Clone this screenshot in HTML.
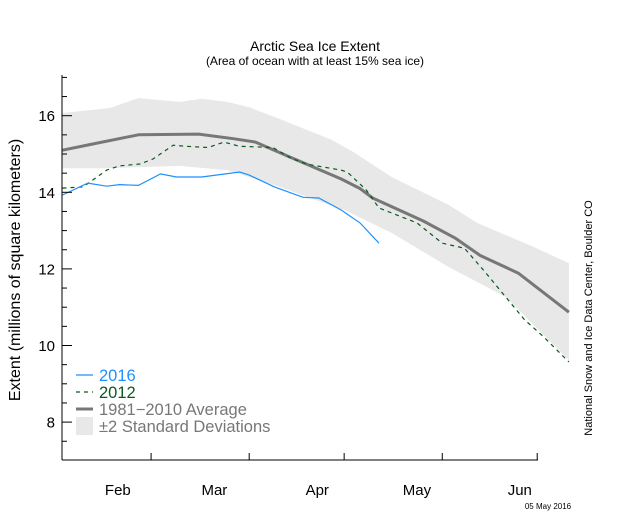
<!DOCTYPE html>
<html><head><meta charset="utf-8"><style>
body{margin:0;background:#fff;}
svg{display:block;font-family:"Liberation Sans",sans-serif;}
</style></head><body>
<svg id="chart" width="640" height="512" viewBox="0 0 640 512">
<text x="315" y="51" text-anchor="middle" font-size="14">Arctic Sea Ice Extent</text>
<text x="315" y="65" text-anchor="middle" font-size="12">(Area of ocean with at least 15% sea ice)</text>
<text transform="translate(20,270) rotate(-90)" text-anchor="middle" font-size="16">Extent (millions of square kilometers)</text>
<text transform="translate(592,318) rotate(-90)" text-anchor="middle" font-size="11">National Snow and Ice Data Center, Boulder CO</text>
<text x="548" y="509" text-anchor="middle" font-size="8">05 May 2016</text>
<g id="plot"></g>
<g>
<line x1="76" y1="375" x2="93" y2="375" stroke="#1e90ff" stroke-width="1.2"/>
<text x="99" y="381" font-size="16.5" fill="#1e90ff">2016</text>
<line x1="76" y1="392" x2="93" y2="392" stroke="#0b5a1e" stroke-width="1.2" stroke-dasharray="4,4"/>
<text x="99" y="398" font-size="16.5" fill="#0b5a1e">2012</text>
<line x1="76" y1="409" x2="93" y2="409" stroke="#777" stroke-width="3"/>
<text x="99" y="415" font-size="16.5" fill="#777">1981−2010 Average</text>
<rect x="76" y="417" width="17" height="18" fill="#e8e8e8"/>
<text x="99" y="432" font-size="16.5" fill="#777">±2 Standard Deviations</text>
</g>
</svg>
<script>
const avgDays=[1,10,25,44,55,62,72,78,89,95,99,115,125,133,145,161];
const avgVals=[15.1,15.25,15.5,15.52,15.4,15.31,14.95,14.74,14.35,14.1,13.85,13.25,12.81,12.35,11.89,10.87];
const upDays=[1,16,25,38,45,53,60,70,86,93,105,123,132,150,161];
const upVals=[16.07,16.2,16.46,16.36,16.44,16.36,16.22,15.9,15.37,15.05,14.4,13.67,13.2,12.57,12.15];
const loDays=[1,15,38,53,68,81,90,105,123,141,161];
const loVals=[14.63,14.63,14.69,14.58,14.19,13.8,13.54,12.94,12.05,11.27,9.62];
const y16Days=[1,9,15,19,25,32,37,45,57,60,68,77,82,89,95,101];
const y16Vals=[13.93,14.24,14.16,14.2,14.18,14.48,14.4,14.4,14.53,14.45,14.14,13.87,13.85,13.54,13.2,12.67];
const y12Days=[1,7.5,15,19,25.5,29.6,36,40,47,52,57,67.5,73,78,89,91,97,101,113,121,128,134,141,147,153,161];
const y12Vals=[14.11,14.14,14.58,14.69,14.74,14.87,15.23,15.2,15.17,15.31,15.2,15.17,14.9,14.74,14.58,14.53,14.06,13.59,13.2,12.67,12.54,11.97,11.27,10.67,10.23,9.57];
const yTicks=[8,10,12,14,16];
const months=["Feb","Mar","Apr","May","Jun"];
const monthStarts=[0,29,60,90,121,151];

const X0=59.3,PXD=3.165,Y16=115.7,PXV=38.3;
const xs=d=>X0+d*PXD;
const ys=v=>Y16+(16-v)*PXV;
const NS="http://www.w3.org/2000/svg";
const plot=document.getElementById('plot');
function mk(tag,attrs){const e=document.createElementNS(NS,tag);for(const k in attrs)e.setAttribute(k,attrs[k]);plot.appendChild(e);return e;}
const pts=(D,V)=>D.map((d,i)=>xs(d).toFixed(1)+','+ys(V[i]).toFixed(1));

let band=mk('polygon',{points:pts(upDays,upVals).concat(pts(loDays,loVals).reverse()).join(' '),fill:'#e8e8e8'});


let avg=mk('polyline',{points:pts(avgDays,avgVals).join(' '),fill:'none',stroke:'#777','stroke-width':3,'stroke-linejoin':'round'});


let l12=mk('polyline',{points:pts(y12Days,y12Vals).join(' '),fill:'none',stroke:'#0b5a1e','stroke-width':1.2,'stroke-dasharray':'4,4'});


let l16=mk('polyline',{points:pts(y16Days,y16Vals).join(' '),fill:'none',stroke:'#1e90ff','stroke-width':1.2});



let ya=mk('line',{x1:62,y1:75,x2:62,y2:460,stroke:'#000','stroke-width':1});


let xa=mk('line',{x1:62,y1:460,x2:538,y2:460,stroke:'#000','stroke-width':1});


for(let v=7.5;v<=17;v+=0.5){
  const major=yTicks.includes(v);
  let t=mk('line',{x1:62,y1:ys(v),x2:major?72:67,y2:ys(v),stroke:'#000','stroke-width':1});
  
  
}
yTicks.forEach(v=>{
  let t=mk('text',{x:55,y:ys(v)+5.5,'text-anchor':'end','font-size':15});
  t.textContent=v;
  
  
});
monthStarts.slice(1).forEach(d=>{
  let t=mk('line',{x1:xs(d),y1:460,x2:xs(d),y2:453,stroke:'#000','stroke-width':1});
  
  
});
months.forEach((m,i)=>{
  let t=mk('text',{x:xs(monthStarts[i]+18.5+i*1.5),y:495,'text-anchor':'middle','font-size':15});
  t.textContent=m;
  
  
});
</script>
</body></html>
